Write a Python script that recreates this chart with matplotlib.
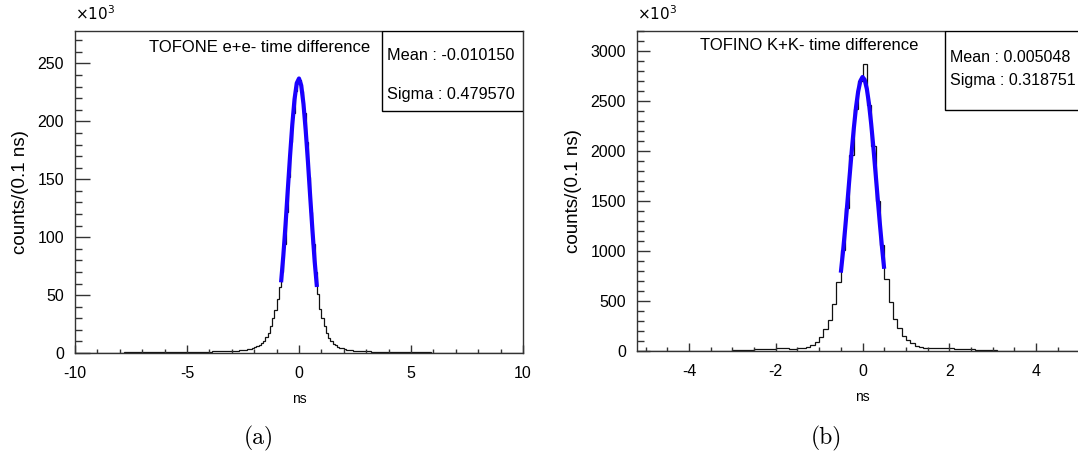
import matplotlib
matplotlib.use('Agg')
import matplotlib.pyplot as plt
from matplotlib.patches import Rectangle
from matplotlib.ticker import MultipleLocator
import numpy as np

plt.rcParams['font.family'] = ['Liberation Sans', 'DejaVu Sans']
plt.rcParams['axes.unicode_minus'] = False

# ── (a) TOFONE e+e-: 200 bins of 0.1 ns from -10 to 10, counts in 10^3 ──
tofone_edges_range = (-10.0, 10.0)
tofone_counts = [
    0.2, 0.2, 0.2, 0.2, 0.2, 0.25, 0.25, 0.25, 0.25, 0.3,
    0.3, 0.3, 0.3, 0.3, 0.35, 0.35, 0.35, 0.35, 0.4, 0.4,
    0.4, 0.4, 0.45, 0.45, 0.45, 0.5, 0.5, 0.5, 0.55, 0.55,
    0.55, 0.6, 0.6, 0.6, 0.65, 0.65, 0.7, 0.7, 0.7, 0.75,
    0.75, 0.8, 0.8, 0.85, 0.85, 0.9, 0.9, 0.95, 0.95, 1.0,
    1.0, 1.0, 1.05, 1.05, 1.1, 1.1, 1.15, 1.15, 1.2, 1.2,
    1.25, 1.3, 1.3, 1.35, 1.4, 1.45, 1.5, 1.55, 1.6, 1.65,
    1.8, 1.9, 2.0, 2.2, 2.4, 2.6, 2.9, 3.2, 3.6, 4.0,
    4.8, 5.8, 7.0, 8.5, 10.5, 13.5, 17.5, 23, 30, 37,
    47, 57, 70, 94, 122, 152, 182, 207, 226, 236,
    236, 226, 207, 182, 152, 122, 94, 70, 51, 38,
    30, 23, 17.5, 13, 10, 8, 6.6, 5.5, 4.6, 3.9,
    3.3, 2.9, 2.6, 2.3, 2.1, 1.9, 1.75, 1.6, 1.5, 1.4,
    1.35, 1.3, 1.25, 1.2, 1.15, 1.1, 1.05, 1.0, 0.95, 0.9,
    0.85, 0.8, 0.8, 0.75, 0.75, 0.7, 0.7, 0.65, 0.65, 0.6,
    0.6, 0.55, 0.55, 0.5, 0.5, 0.5, 0.45, 0.45, 0.45, 0.4,
    0.4, 0.4, 0.35, 0.35, 0.35, 0.35, 0.3, 0.3, 0.3, 0.3,
    0.3, 0.25, 0.25, 0.25, 0.25, 0.25, 0.2, 0.2, 0.2, 0.2,
    0.2, 0.2, 0.2, 0.15, 0.15, 0.15, 0.15, 0.15, 0.15, 0.15,
    0.1, 0.1, 0.1, 0.1, 0.1, 0.1, 0.1, 0.1, 0.1, 0.1,
]
# gaussian fit curve
tofone_fit_x = [-0.8, -0.7, -0.6, -0.5, -0.4, -0.3, -0.2, -0.1, 0.0,
                0.1, 0.2, 0.3, 0.4, 0.5, 0.6, 0.7, 0.8]
tofone_fit_y = [61, 84, 111, 141, 170, 197, 219, 233, 237,
                231, 215, 192, 165, 135, 106, 79, 57]
tofone_stats = ['Mean : -0.010150', 'Sigma : 0.479570']

# ── (b) TOFINO K+K-: 104 bins of 0.1 ns from -5.2 to 5.2, counts in 10^3 ──
tofino_edges_range = (-5.2, 5.2)
tofino_counts = [
    0, 0, 0, 0, 0, 0, 0, 0, 0, 0, 0, 0,
    1, 1, 1, 2, 2, 2, 3, 3, 4, 5,
    7, 9, 11, 13, 15, 17, 19, 21, 23, 25,
    27, 27, 26, 25, 24,
    27, 33, 43, 60, 93,
    136, 216, 309, 469, 690,
    1010, 1430, 1960, 2420, 2700,
    2870, 2460, 2050, 1500, 1060,
    725, 492, 319, 226, 150,
    110, 76, 53, 40, 30,
    27, 26, 26, 27, 27,
    26, 25, 24, 22, 20, 18, 15, 12, 10, 8,
    6, 5, 4, 3, 3, 2, 2, 1, 1, 1,
    0.5, 0.5, 0, 0, 0, 0, 0, 0, 0, 0, 0, 0,
]
tofino_fit_x = [-0.50, -0.45, -0.40, -0.35, -0.30, -0.25, -0.20, -0.15, -0.10, -0.05,
                0.00, 0.05, 0.10, 0.15, 0.20, 0.25, 0.30, 0.35, 0.40, 0.45, 0.50]
tofino_fit_y = [783, 991, 1224, 1475, 1735, 1991, 2228, 2436, 2595, 2700,
                2740, 2713, 2621, 2472, 2272, 2040, 1787, 1526, 1274, 1036, 822]
tofino_stats = ['Mean : 0.005048', 'Sigma : 0.318751']

W, H = 1078, 455
fig = plt.figure(figsize=(W / 100, H / 100), dpi=100)
fig.patch.set_facecolor('white')

def px_axes(x0, x1, ytop, ybot):
    return fig.add_axes([x0 / W, 1 - ybot / H, (x1 - x0) / W, (ybot - ytop) / H])

def style(ax, ymajor, yminor, xmajor, xminor, ylen):
    for s in ax.spines.values():
        s.set_color('#333333')
        s.set_linewidth(1.0)
    ax.yaxis.set_major_locator(MultipleLocator(ymajor))
    ax.yaxis.set_minor_locator(MultipleLocator(yminor))
    ax.xaxis.set_major_locator(MultipleLocator(xmajor))
    ax.xaxis.set_minor_locator(MultipleLocator(xminor))
    ax.tick_params(axis='y', which='major', direction='in', length=ylen, width=1,
                   color='#333333', labelsize=11.5, pad=8, right=False)
    ax.tick_params(axis='y', which='minor', direction='in', length=ylen / 2, width=1,
                   color='#333333', right=False)
    ax.tick_params(axis='x', which='major', direction='in', length=6, width=1,
                   color='#333333', labelsize=11.5, pad=9, top=False)
    ax.tick_params(axis='x', which='minor', direction='in', length=3, width=1,
                   color='#333333', top=False)
    ax.set_ylabel('counts/(0.1 ns)', fontsize=13.5, labelpad=6)
    ax.set_xlabel('ns', fontsize=10, labelpad=8,
                  family=['Liberation Sans Narrow', 'Liberation Sans'])

# ── panel (a) ───────────────────────────────────────────────
ax1 = px_axes(75, 523, 31, 353)
edges1 = np.linspace(*tofone_edges_range, len(tofone_counts) + 1)
ax1.stairs(tofone_counts, edges1, color='#111111', lw=0.9, baseline=None)
ax1.plot(tofone_fit_x, tofone_fit_y, color='#1a00ff', lw=3, solid_capstyle='butt')
ax1.set_xlim(*tofone_edges_range)
ax1.set_ylim(0, 278)
style(ax1, 50, 10, 5, 1, 10.5)
ax1.text(0.0, 1.025, r'$\times10^3$', transform=ax1.transAxes, fontsize=11,
         ha='left', va='bottom')
fig.text(260 / W, 1 - 47 / H, 'TOFONE e+e- time difference', fontsize=12,
         ha='center', va='center')
ax1.add_patch(Rectangle((0.685, 0.752), 0.315, 0.248, transform=ax1.transAxes,
                        facecolor='white', edgecolor='black', lw=1, zorder=5))
fig.text(387 / W, 1 - 55 / H, tofone_stats[0], fontsize=11.7, ha='left', va='center')
fig.text(387 / W, 1 - 95 / H, tofone_stats[1], fontsize=11.7, ha='left', va='center')

# ── panel (b) ───────────────────────────────────────────────
ax2 = px_axes(637, 1088, 31, 351)
edges2 = np.linspace(*tofino_edges_range, len(tofino_counts) + 1)
ax2.stairs(tofino_counts, edges2, color='#111111', lw=0.9, baseline=None)
ax2.plot(tofino_fit_x, tofino_fit_y, color='#1a00ff', lw=3, solid_capstyle='butt')
ax2.set_xlim(*tofino_edges_range)
ax2.set_ylim(0, 3200)
style(ax2, 500, 100, 2, 0.5, 9.5)
ax2.text(0.0, 1.025, r'$\times10^3$', transform=ax2.transAxes, fontsize=11,
         ha='left', va='bottom')
fig.text(809 / W, 1 - 46 / H, 'TOFINO K+K- time difference', fontsize=12,
         ha='center', va='center')
ax2.add_patch(Rectangle((0.683, 0.753), 0.317, 0.247, transform=ax2.transAxes,
                        facecolor='white', edgecolor='black', lw=1, zorder=5))
fig.text(950 / W, 1 - 57 / H, tofino_stats[0], fontsize=11.5, ha='left', va='center')
fig.text(950 / W, 1 - 80 / H, tofino_stats[1], fontsize=11.5, ha='left', va='center')

# ── captions ───────────────────────────────────────────────
fig.text(259 / W, 1 - 438 / H, '(a)', fontsize=17, family=['cmr10', 'DejaVu Serif'],
         ha='center', va='center')
fig.text(826 / W, 1 - 438 / H, '(b)', fontsize=17, family=['cmr10', 'DejaVu Serif'],
         ha='center', va='center')

fig.savefig('out.png', dpi=100, facecolor='white')
